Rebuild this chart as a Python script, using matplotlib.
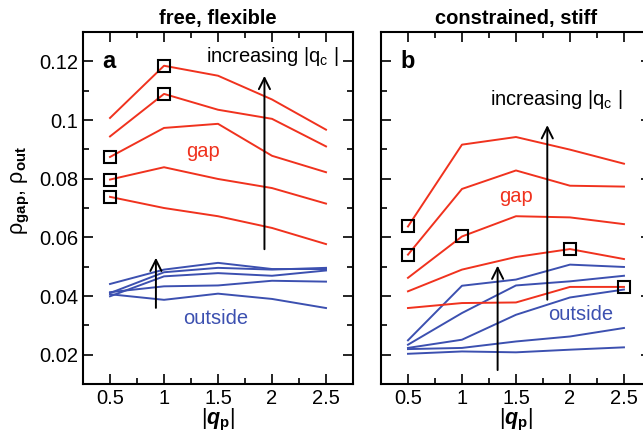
import numpy as np
import matplotlib
matplotlib.use("Agg")
import matplotlib.pyplot as plt
from matplotlib.ticker import MultipleLocator, FuncFormatter

plt.rcParams["font.family"] = ["Liberation Sans", "DejaVu Sans"]
plt.rcParams["mathtext.fontset"] = "custom"
plt.rcParams["mathtext.rm"] = "Liberation Sans"
plt.rcParams["mathtext.it"] = "Liberation Sans:italic"
plt.rcParams["mathtext.bf"] = "Liberation Sans:bold"
plt.rcParams["mathtext.bfit"] = "Liberation Sans:bold:italic"

# |q_p| values
qp = [0.5, 1.0, 1.5, 2.0, 2.5]

# panel a: free, flexible
free_gap = [
    [0.1007, 0.1185, 0.1151, 0.1070, 0.0967],
    [0.0944, 0.1089, 0.1035, 0.1004, 0.0910],
    [0.0874, 0.0973, 0.0987, 0.0878, 0.0822],
    [0.0797, 0.0839, 0.0799, 0.0768, 0.0715],
    [0.0738, 0.0700, 0.0672, 0.0632, 0.0577],
]
free_out = [
    [0.0441, 0.0490, 0.0513, 0.0492, 0.0492],
    [0.0410, 0.0481, 0.0496, 0.0490, 0.0496],
    [0.0399, 0.0467, 0.0478, 0.0469, 0.0487],
    [0.0413, 0.0433, 0.0436, 0.0452, 0.0449],
    [0.0406, 0.0387, 0.0408, 0.0390, 0.0359],
]
free_sq_x = [1.0, 1.0, 0.5, 0.5, 0.5]
free_sq_y = [0.1185, 0.1089, 0.0874, 0.0797, 0.0738]

# panel b: constrained, stiff
stiff_gap = [
    [0.0637, 0.0916, 0.0942, 0.0899, 0.0851],
    [0.0541, 0.0765, 0.0828, 0.0776, 0.0773],
    [0.0462, 0.0603, 0.0672, 0.0668, 0.0645],
    [0.0416, 0.0490, 0.0533, 0.0560, 0.0526],
    [0.0359, 0.0376, 0.0378, 0.0431, 0.0431],
]
stiff_out = [
    [0.0249, 0.0435, 0.0456, 0.0507, 0.0499],
    [0.0234, 0.0342, 0.0436, 0.0450, 0.0469],
    [0.0223, 0.0251, 0.0336, 0.0395, 0.0422],
    [0.0219, 0.0223, 0.0245, 0.0262, 0.0291],
    [0.0203, 0.0211, 0.0208, 0.0217, 0.0225],
]
stiff_sq_x = [0.5, 0.5, 1.0, 2.0, 2.5]
stiff_sq_y = [0.0637, 0.0541, 0.0603, 0.0560, 0.0431]

RED = "#f0321e"
BLUE = "#3c50b0"
FS = 14.5

fig = plt.figure(figsize=(6.43, 4.32), dpi=100)
axa = fig.add_axes([0.1291, 0.1111, 0.4199, 0.8148])
axb = fig.add_axes([0.5925, 0.1111, 0.4199, 0.8148])


def style(ax, title, letter, show_y):
    ax.set_xlim(0.25, 2.75)
    ax.set_ylim(0.01, 0.13)
    ax.xaxis.set_major_locator(MultipleLocator(0.5))
    ax.xaxis.set_minor_locator(MultipleLocator(0.25))
    ax.yaxis.set_major_locator(MultipleLocator(0.02))
    ax.yaxis.set_minor_locator(MultipleLocator(0.01))
    ax.xaxis.set_major_formatter(FuncFormatter(lambda v, p: f"{v:g}"))
    ax.yaxis.set_major_formatter(FuncFormatter(lambda v, p: f"{v:g}"))
    ax.tick_params(which="both", direction="in", top=True, right=True,
                   labelsize=FS, width=1.2, labelleft=show_y)
    ax.tick_params(which="major", length=7)
    ax.tick_params(which="minor", length=4)
    for sp in ax.spines.values():
        sp.set_linewidth(1.5)
    ax.set_title(title, fontsize=FS, fontweight="bold", pad=6)
    ax.set_xlabel(r"$|\mathbfit{q}_{\mathbf{p}}|$", fontsize=FS + 1, labelpad=-1)
    ax.text(0.43, 0.12, letter, fontsize=17, fontweight="bold", va="center", ha="left")


def draw(ax, gap, out, sqx, sqy):
    for row in out:
        ax.plot(qp, row, color=BLUE, lw=1.4)
    for row in gap:
        ax.plot(qp, row, color=RED, lw=1.4)
    ax.plot(sqx, sqy, "s", ms=8.5, mfc="none", mec="black", mew=1.5)


def arrow(ax, x, y0, y1):
    ax.annotate("", xy=(x, y1), xytext=(x, y0),
                arrowprops=dict(arrowstyle="->", color="black", lw=1.4,
                                mutation_scale=20))


draw(axa, free_gap, free_out, free_sq_x, free_sq_y)
draw(axb, stiff_gap, stiff_out, stiff_sq_x, stiff_sq_y)
style(axa, "free, flexible", "a", True)
style(axb, "constrained, stiff", "b", False)

axa.set_ylabel(r"ρ$_{\mathbf{gap}}$, ρ$_{\mathbf{out}}$", fontsize=FS + 1)
axa.yaxis.set_label_coords(-0.19, 0.55)

# annotations panel a
arrow(axa, 1.93, 0.055, 0.116)
arrow(axa, 0.925, 0.035, 0.054)
axa.text(1.39, 0.1217, r"increasing |q$_{\mathrm{c}}$ |", fontsize=FS, va="center",
         ha="left", clip_on=False)
axa.text(1.36, 0.0893, "gap", color=RED, fontsize=FS, ha="center", va="center")
axa.text(1.48, 0.0325, "outside", color=BLUE, fontsize=FS, ha="center", va="center")

# annotations panel b
arrow(axb, 1.79, 0.0378, 0.0992)
arrow(axb, 1.33, 0.0138, 0.0513)
axb.text(1.26, 0.1069, r"increasing |q$_{\mathrm{c}}$ |", fontsize=FS, va="center",
         ha="left")
axb.text(1.50, 0.0740, "gap", color=RED, fontsize=FS, ha="center", va="center")
axb.text(2.10, 0.0336, "outside", color=BLUE, fontsize=FS, ha="center", va="center")

fig.savefig("out.png", dpi=100)
